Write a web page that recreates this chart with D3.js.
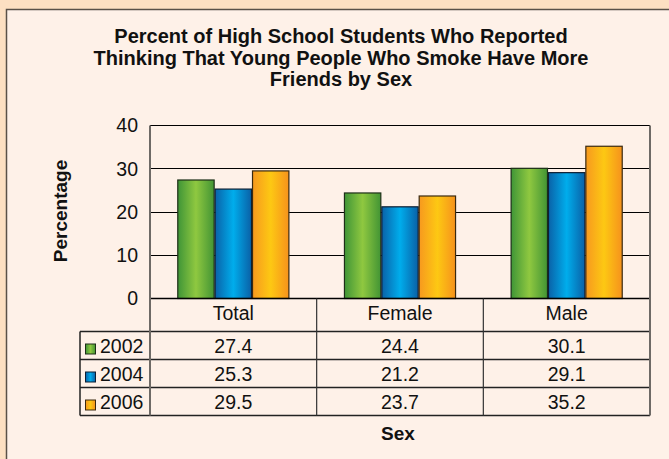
<!DOCTYPE html>
<html>
<head>
<meta charset="utf-8">
<script src="https://cdn.jsdelivr.net/npm/d3@7"></script>
<style>
  html, body { margin: 0; padding: 0; background: #FDE0C2; }
  svg { display: block; }
  text { font-family: "Liberation Sans", Arial, sans-serif; fill: #111; }
</style>
</head>
<body>
<svg id="chart" width="669" height="459"></svg>
<script>
const categories = ["Total", "Female", "Male"];
const seriesNames = ["2002", "2004", "2006"];
const values2002 = [27.4, 24.4, 30.1];
const values2004 = [25.3, 21.2, 29.1];
const values2006 = [29.5, 23.7, 35.2];
const yTicks = [0, 10, 20, 30, 40];
const titleLines = [
  "Percent of High School Students Who Reported",
  "Thinking That Young People Who Smoke Have More",
  "Friends by Sex"
];
const yLabel = "Percentage";
const xLabel = "Sex";

(function () {
const seriesValues = [values2002, values2004, values2006];
const gradStops = [
  ["#3f9537", "#8fc840", "#429434"],
  ["#0a62a8", "#00adec", "#0a60a6"],
  ["#f7991f", "#fdc813", "#f6921c"]
];
const strokeCols = ["#1d2e18", "#0d1f33", "#3a2a10"];

const svg = d3.select("#chart");
const defs = svg.append("defs");
seriesNames.forEach((s, i) => {
  const g = defs.append("linearGradient").attr("id", "grad" + i)
    .attr("x1", "0%").attr("x2", "100%").attr("y1", "0%").attr("y2", "0%");
  g.append("stop").attr("offset", "0%").attr("stop-color", gradStops[i][0]);
  g.append("stop").attr("offset", "50%").attr("stop-color", gradStops[i][1]);
  g.append("stop").attr("offset", "100%").attr("stop-color", gradStops[i][2]);
});

// inner panel
svg.append("rect").attr("x", 6.5).attr("y", 9.5).attr("width", 700).attr("height", 500)
  .attr("fill", "#FEF1E8").attr("stroke", "#5a5148").attr("stroke-width", 1.5);

const pLeft = 150, pRight = 650, pTop = 125.5, pBottom = 298.5;
const x0 = d3.scaleBand().domain(categories).range([pLeft, pRight]).paddingInner(0).paddingOuter(0);
const x1 = d3.scaleBand().domain(seriesNames).range([0, x0.bandwidth()]).paddingInner(0).paddingOuter(0.73);
const y = d3.scaleLinear().domain([0, 40]).range([pBottom, pTop]);
const snap = v => Math.round(v - 0.5) + 0.5;

// title
const title = svg.append("text").attr("text-anchor", "middle").attr("font-weight", "bold").attr("font-size", 20);
titleLines.forEach((t, i) => {
  title.append("tspan").attr("x", 341).attr("y", 43 + i * 21.7).text(t);
});

// gridlines
svg.append("g").selectAll("line").data(yTicks.filter(d => d > 0)).join("line")
  .attr("x1", pLeft).attr("x2", pRight)
  .attr("y1", d => snap(y(d))).attr("y2", d => snap(y(d)))
  .attr("stroke", "#000").attr("stroke-width", 1);

// y axis labels via d3 axis
const yAxis = svg.append("g").attr("transform", `translate(${pLeft - 12},0)`)
  .call(d3.axisLeft(y).tickValues(yTicks).tickSize(0).tickPadding(0));
yAxis.select(".domain").remove();
yAxis.selectAll("text").attr("font-size", 19.5).attr("fill", "#111")
  .attr("font-family", "Liberation Sans, Arial, sans-serif");

// bars
const groups = svg.append("g").selectAll("g").data(categories).join("g")
  .attr("transform", d => `translate(${x0(d)},0)`);
groups.selectAll("rect").data((c, ci) => seriesNames.map((s, si) => ({ s, si, v: seriesValues[si][ci] })))
  .join("rect")
  .attr("x", d => x1(d.s) + 0.5)
  .attr("y", d => y(d.v))
  .attr("width", x1.bandwidth() - 1)
  .attr("height", d => pBottom - y(d.v))
  .attr("fill", d => `url(#grad${d.si})`)
  .attr("stroke", d => strokeCols[d.si]).attr("stroke-width", 1.2);

// table
const headerH = 33, rowH = 28;
const tTop = pBottom, hBot = pBottom + headerH, tBot = hBot + rowH * 3;
const lg = svg.append("g");
lg.append("line").attr("x1", pLeft).attr("x2", pRight).attr("y1", tTop).attr("y2", tTop).attr("stroke", "#000").attr("stroke-width", 1.5);
[0, 1, 2, 3].forEach(i => {
  lg.append("line").attr("x1", 80).attr("x2", pRight)
    .attr("y1", hBot + i * rowH).attr("y2", hBot + i * rowH)
    .attr("stroke", "#222").attr("stroke-width", 1.5);
});
lg.append("line").attr("x1", 80).attr("x2", 80).attr("y1", hBot).attr("y2", tBot).attr("stroke", "#222").attr("stroke-width", 1.5);
categories.slice(1).forEach(c => {
  lg.append("line").attr("x1", x0(c)).attr("x2", x0(c)).attr("y1", tTop).attr("y2", tBot).attr("stroke", "#333").attr("stroke-width", 1.2);
});
[pLeft, pRight].forEach(xx => {
  lg.append("line").attr("x1", xx).attr("x2", xx).attr("y1", pTop).attr("y2", tBot).attr("stroke", "#6e6a66").attr("stroke-width", 2);
});

// category labels
svg.append("g").selectAll("text").data(categories).join("text")
  .attr("x", d => x0(d) + x0.bandwidth() / 2).attr("y", tTop + 21.5)
  .attr("text-anchor", "middle").attr("font-size", 19.5).text(d => d);

// value cells + legend keys
seriesNames.forEach((s, si) => {
  const ry = hBot + si * rowH + rowH / 2 + 7;
  svg.append("g").selectAll("text").data(categories).join("text")
    .attr("x", d => x0(d) + x0.bandwidth() / 2).attr("y", ry)
    .attr("text-anchor", "middle").attr("font-size", 19.5)
    .text((d, ci) => seriesValues[si][ci].toFixed(1));
  svg.append("rect").attr("x", 85.5).attr("y", ry - 8.5).attr("width", 10).attr("height", 10)
    .attr("fill", `url(#grad${si})`).attr("stroke", strokeCols[si]).attr("stroke-width", 1);
  svg.append("text").attr("x", 100).attr("y", ry).attr("font-size", 19.5).text(s);
});

// axis titles
svg.append("text").attr("transform", "translate(67,211) rotate(-90)")
  .attr("text-anchor", "middle").attr("font-weight", "bold").attr("font-size", 19).text(yLabel);
svg.append("text").attr("x", x0("Female") + x0.bandwidth() / 2 - 2).attr("y", 439.5)
  .attr("text-anchor", "middle").attr("font-weight", "bold").attr("font-size", 19).text(xLabel);
})();
</script>
</body>
</html>
